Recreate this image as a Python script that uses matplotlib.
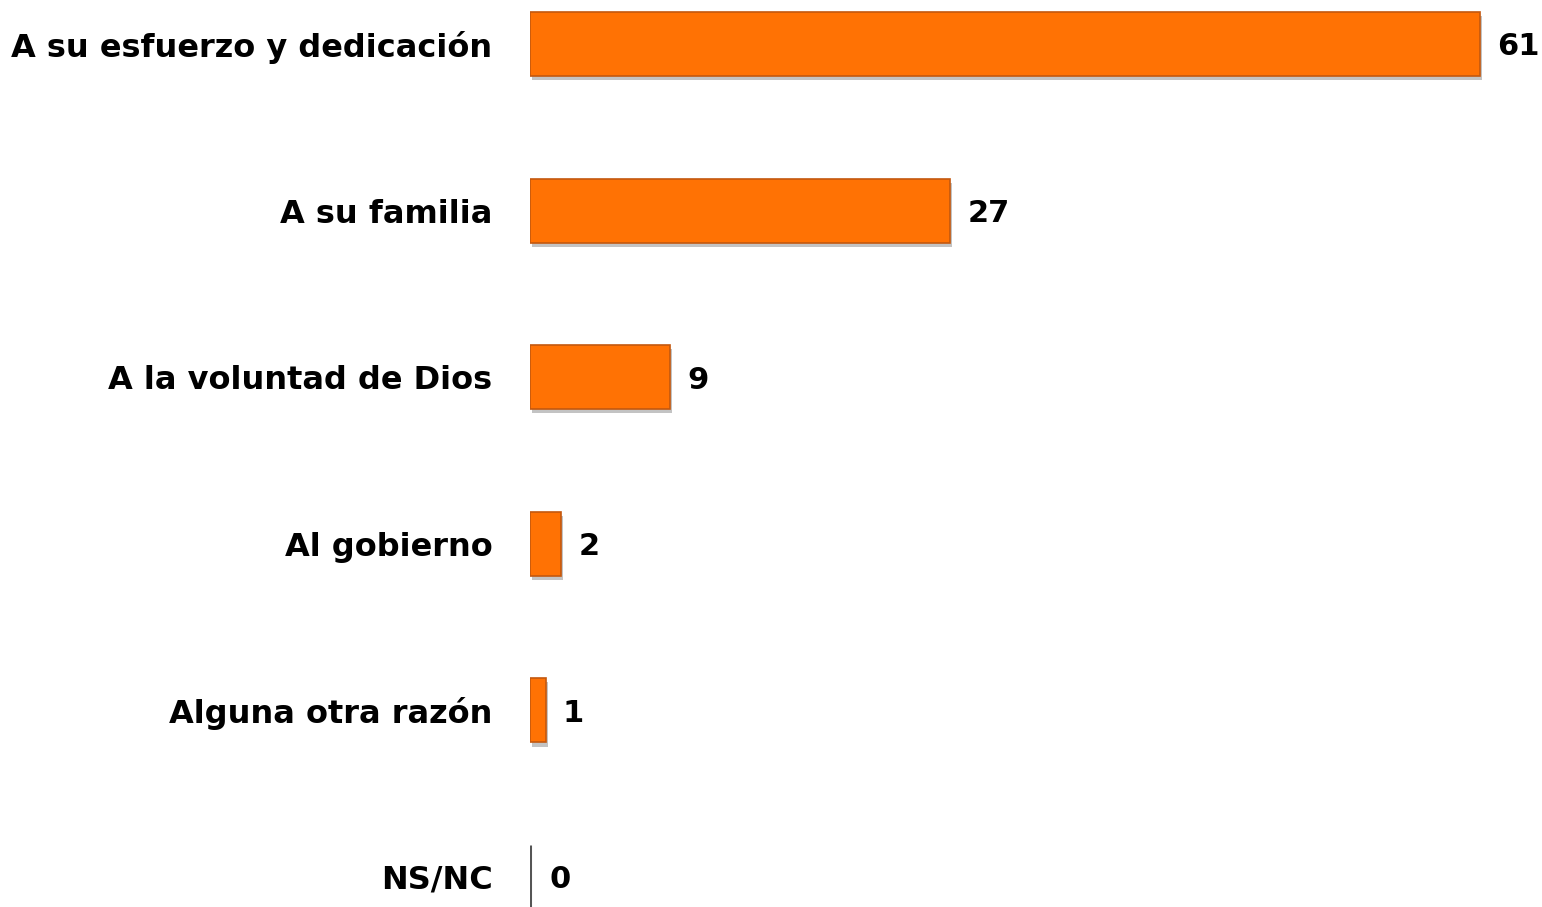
import matplotlib
matplotlib.use("Agg")
import matplotlib.pyplot as plt
import matplotlib.patheffects as pe

categories = ["A su esfuerzo y dedicación", "A su familia", "A la voluntad de Dios",
              "Al gobierno", "Alguna otra razón", "NS/NC"]
values = [61, 27, 9, 2, 1, 0]

plt.rcParams['font.family'] = ['DejaVu Sans']

fig = plt.figure(figsize=(15.42, 9.07), dpi=100)
ax = fig.add_axes([530/1542, 0, 1 - 530/1542, 1])

ypos = list(range(len(categories)))
for y, v in zip(ypos, values):
    if v > 0:
        b = ax.barh(y, v, height=0.385, color="#FF7204", edgecolor="#C4580E", linewidth=1.2)
        for p in b.patches:
            p.set_path_effects([pe.SimplePatchShadow(offset=(1.5, -3), alpha=0.35, shadow_rgbFace="#555555"), pe.Normal()])
    else:
        ax.barh(y, v, height=0.385, color="#FF7204", edgecolor="#555555", linewidth=2.2)
    ax.text(v + (1.1 if v > 0 else 1.25), y, str(v), va="center_baseline", ha="left",
            fontsize=22, fontweight="bold", color="black")

ax.set_xlim(0, 65)
ax.set_ylim(5 + 30/166.6, -44/166.6)
ax.set_yticks(ypos)
ax.set_yticklabels(categories, fontsize=23, fontweight="bold")
ax.tick_params(axis="y", length=0, pad=27)
ax.set_xticks([])
for s in ax.spines.values():
    s.set_visible(False)

fig.savefig("out.png", dpi=100)
